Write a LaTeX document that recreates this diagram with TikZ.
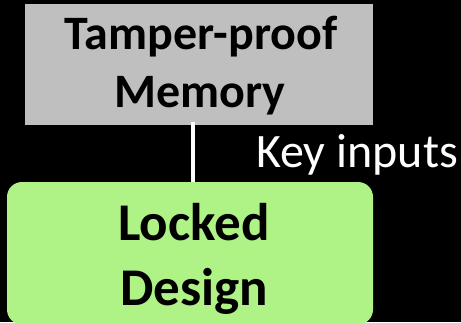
\documentclass[tikz,border=0pt]{standalone}
\usepackage{fontspec}
\setmainfont{Carlito}
\definecolor{memgrey}{RGB}{191,191,191}
\definecolor{lockgreen}{RGB}{175,242,133}
\begin{document}
\begin{tikzpicture}[x=1pt,y=1pt,
  membox/.style={fill=memgrey, draw=none, rectangle, inner sep=0pt, minimum width=348pt, minimum height=121pt},
  lockbox/.style={fill=lockgreen, draw=none, rectangle, rounded corners=15pt, inner sep=0pt, minimum width=366pt, minimum height=142.5pt},
  wire/.style={draw=white, line width=4pt},
  boldtxt/.style={font=\fontsize{48}{58}\selectfont\bfseries, text=black, inner sep=0pt, anchor=base},
  bigtxt/.style={font=\fontsize{53}{65}\selectfont\bfseries, text=black, inner sep=0pt, anchor=base},
  lbl/.style={font=\fontsize{48}{52}\selectfont, text=white, inner sep=0pt, anchor=base west}]
\fill[black] (0,0) rectangle (461,322);
\useasboundingbox (0,0) rectangle (461,322);
\begin{scope}
\clip (0,0) rectangle (461,322);
\node[membox] (mem) at (199,257.5) {};
\node[lockbox] (lock) at (190,68.75) {};
\end{scope}
\node[boldtxt] (memt1) at (201,272) {Tamper-proof};
\node[boldtxt] (memt2) at (200,214) {Memory};
\node[bigtxt] (lockt1) at (194,82) {Locked};
\node[bigtxt] (lockt2) at (194,17) {Design};
\coordinate (wtop) at (193,200);
\coordinate (wbot) at (193,140);
\draw[wire] (wtop) -- (wbot);
\node[lbl] (key) at (256,154) {Key inputs};
\end{tikzpicture}
\end{document}
